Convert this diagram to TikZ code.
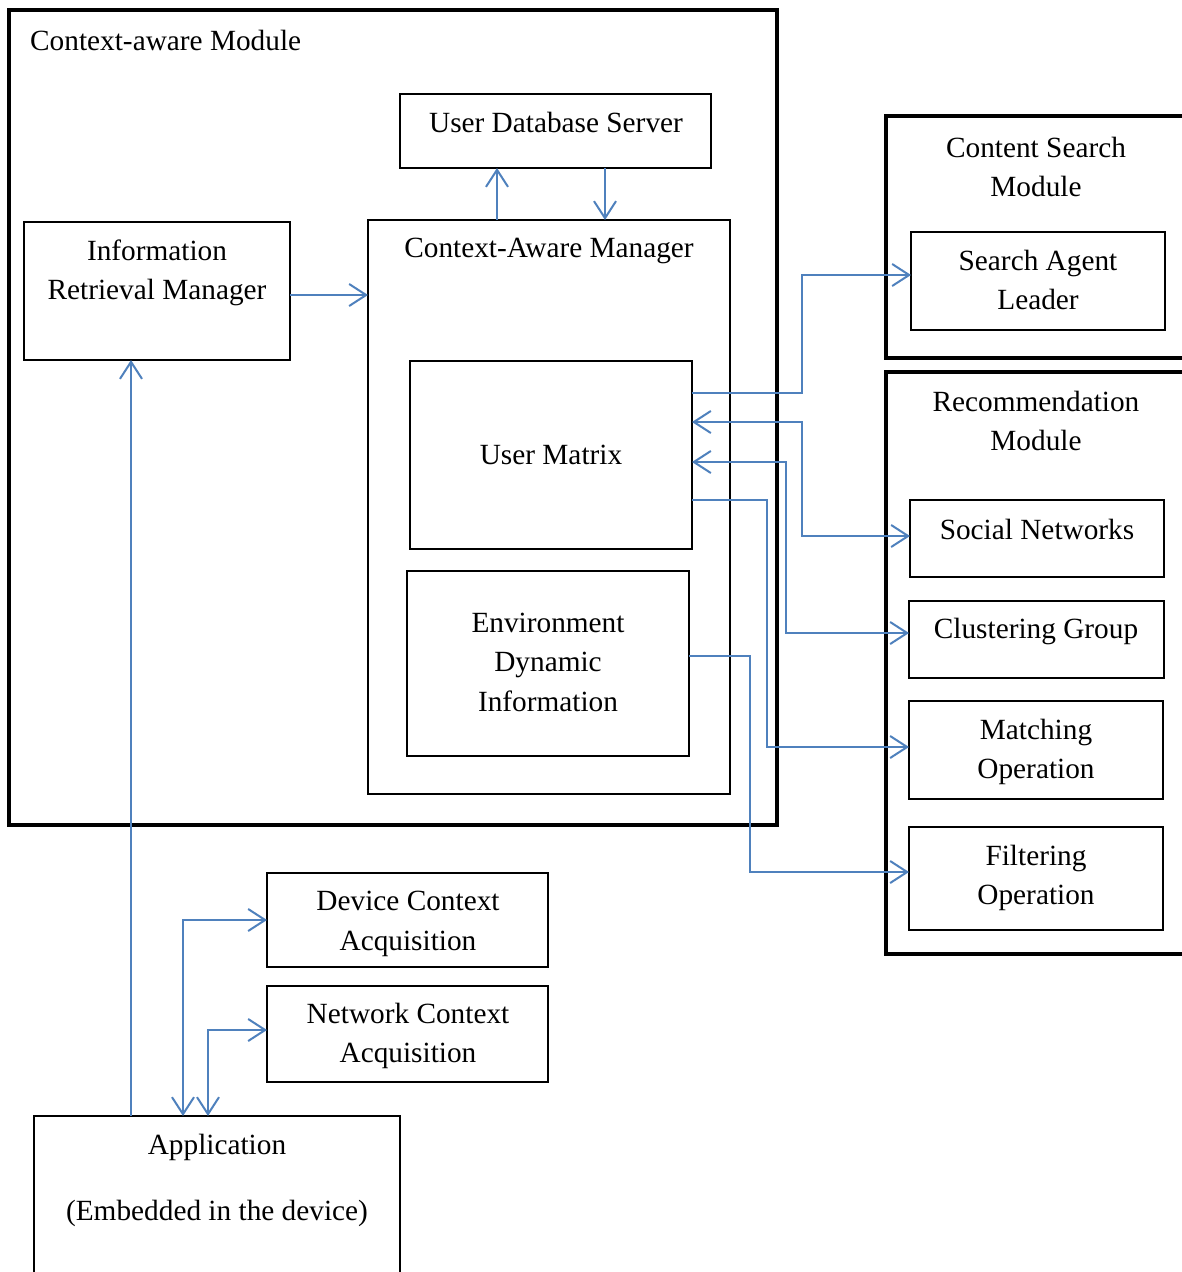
\documentclass[tikz,border=0pt]{standalone}
\usepackage{fontspec}
\setmainfont{Liberation Serif}
\usetikzlibrary{arrows.meta}

\definecolor{linkblue}{HTML}{4F81BD}

% box from its top-left and bottom-right corners
\newcommand{\mkbox}[6]{%
  \node[#1, anchor=north west, inner sep=0pt, outer sep=0pt,
        minimum width={#5-#3}, minimum height={#6-#4}] (#2) at (#3,#4) {};}

\begin{document}
\begin{tikzpicture}[x=1pt, y=-1pt,
  box/.style={draw=black, line width=1.5pt},
  heavybox/.style={draw=black, line width=4pt},
  conn/.style={draw=linkblue, line width=2pt},
  >={Straight Barb[length=17pt,width=22pt]},
  txt/.style={font=\fontsize{29.3}{39.5}\selectfont, align=center, inner sep=0pt}
]
\clip (0,0) rectangle (1182,1272);
\fill[white] (0,0) rectangle (1182,1272);

% outer modules
\mkbox{heavybox}{cmod}{9}{10}{777}{825}
\mkbox{heavybox}{csm}{886}{116}{1210}{358}
\mkbox{heavybox}{rm}{886}{372}{1210}{954}

% inner boxes
\mkbox{box}{uds}{400}{94}{711}{168}
\mkbox{box}{irm}{24}{222}{290}{360}
\mkbox{box}{cmgr}{368}{220}{730}{794}
\mkbox{box}{um}{410}{361}{692}{549}
\mkbox{box}{edi}{407}{571}{689}{756}
\mkbox{box}{sal}{911}{232}{1165}{330}
\mkbox{box}{sn}{910}{500}{1164}{577}
\mkbox{box}{cg}{909}{601}{1164}{678}
\mkbox{box}{mo}{909}{701}{1163}{799}
\mkbox{box}{fo}{909}{827}{1163}{930}
\mkbox{box}{dca}{267}{873}{548}{967}
\mkbox{box}{nca}{267}{986}{548}{1082}
\mkbox{box}{app}{34}{1116}{400}{1320}

% labels
\node[txt, anchor=west] (cmodT) at (30,40) {Context-aware Module};
\node[txt] (udsT) at (556,122) {User Database Server};
\node[txt] (irmT) at (157,273) {Information\\Retrieval Manager};
\node[txt] (cmgrT) at (549,251) {Context-Aware Manager};
\node[txt] (umT) at (551,455) {User Matrix};
\node[txt] (ediT) at (548,662) {Environment\\Dynamic\\Information};
\node[txt] (csmT) at (1036,167) {Content Search\\Module};
\node[txt] (salT) at (1038,280) {Search Agent\\Leader};
\node[txt] (rmT) at (1036,421) {Recommendation\\Module};
\node[txt] (snT) at (1037,529) {Social Networks};
\node[txt] (cgT) at (1036,631) {Clustering Group};
\node[txt] (moT) at (1036,752) {Matching\\Operation};
\node[txt] (foT) at (1036,878) {Filtering\\Operation};
\node[txt] (dcaT) at (408,924) {Device Context\\Acquisition};
\node[txt] (ncaT) at (408,1036) {Network Context\\Acquisition};
\node[txt] (appT) at (217,1147) {Application};
\node[txt] (appT2) at (217,1213) {(Embedded in the device)};

% connectors
\draw[conn,->] (irm.east |- 0,295) -- (cmgr.west |- 0,295);
\draw[conn,->] (cmgr.north -| 497,0) -- (uds.south -| 497,0);
\draw[conn,->] (uds.south -| 605,0) -- (cmgr.north -| 605,0);

\draw[conn,->] (um.east |- 0,393) -| (802,275) -- (sal.west |- 0,275);
\draw[conn,<->] (um.east |- 0,422) -| (802,536) -- (sn.west |- 0,536);
\draw[conn,<->] (um.east |- 0,462) -| (786,633) -- (cg.west |- 0,633);
\draw[conn,->] (um.east |- 0,500) -| (767,747) -- (mo.west |- 0,747);
\draw[conn,->] (edi.east |- 0,656) -| (750,872) -- (fo.west |- 0,872);

\draw[conn,->] (app.north -| 131,0) -- (irm.south -| 131,0);
\draw[conn,<->] (app.north -| 183,0) |- (dca.west |- 0,920);
\draw[conn,<->] (app.north -| 208,0) |- (nca.west |- 0,1030);
\end{tikzpicture}
\end{document}
